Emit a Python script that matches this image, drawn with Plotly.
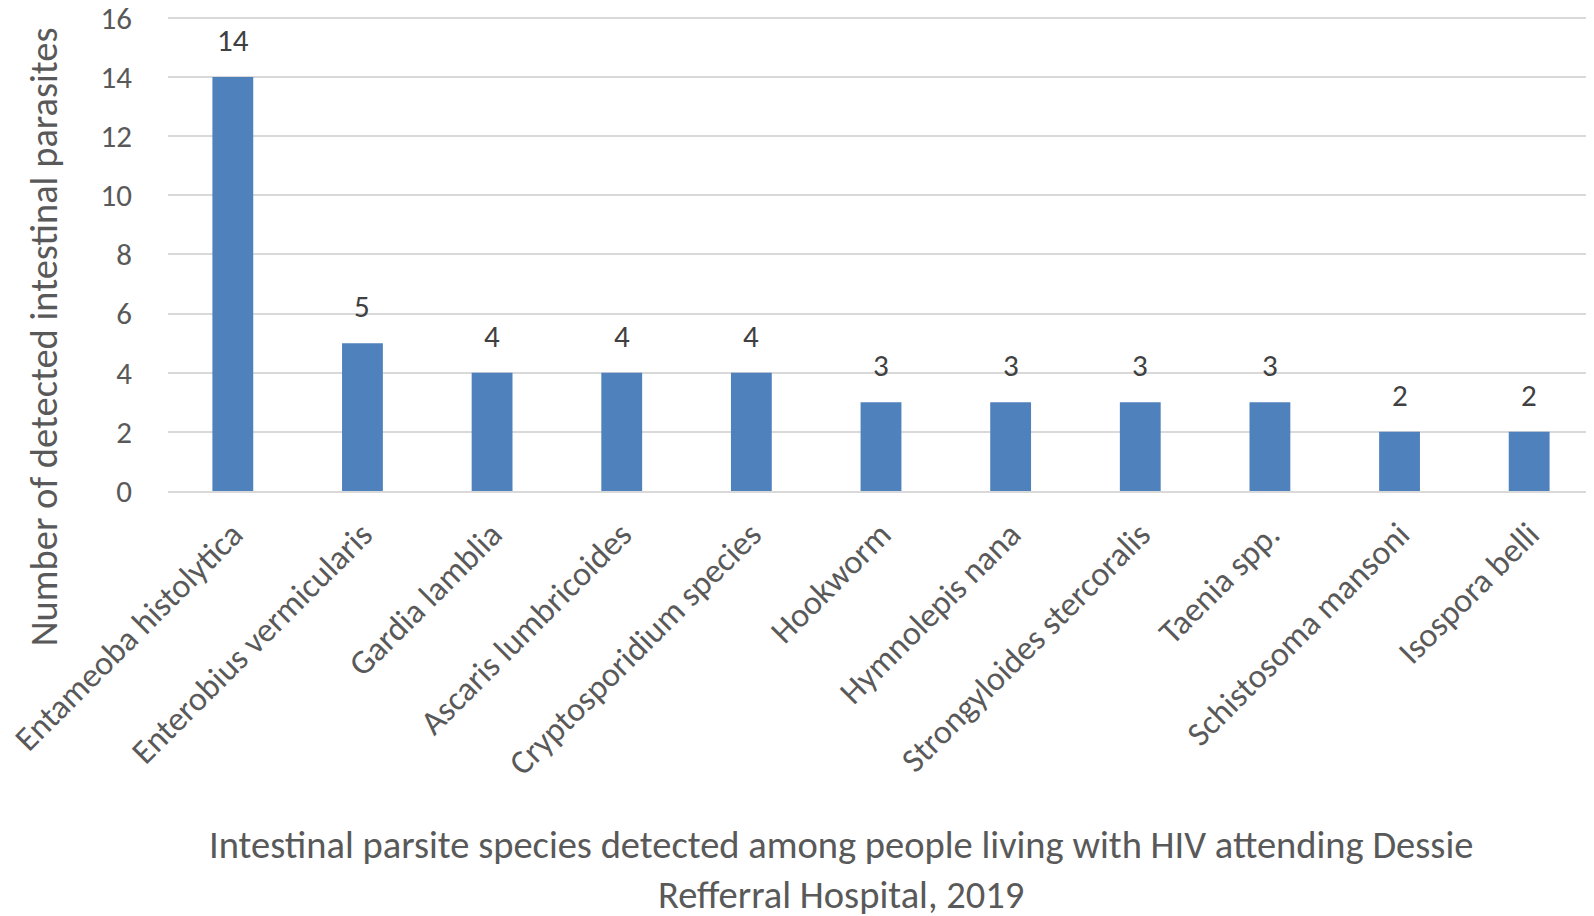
import plotly.graph_objects as go

species = [
    "Entameoba histolytica",
    "Enterobius vermicularis",
    "Gardia lamblia",
    "Ascaris lumbricoides",
    "Cryptosporidium species",
    "Hookworm",
    "Hymnolepis nana",
    "Strongyloides stercoralis",
    "Taenia spp.",
    "Schistosoma mansoni",
    "Isospora belli",
]
counts = [14, 5, 4, 4, 4, 3, 3, 3, 3, 2, 2]
y_ticks = [0, 2, 4, 6, 8, 10, 12, 14, 16]

FONT = "Carlito, Lato, 'Open Sans', sans-serif"
TEXT_GREY = "#595959"

fig = go.Figure()
fig.add_trace(go.Bar(
    x=species,
    y=counts,
    marker=dict(color="#4F81BD", line=dict(width=0)),
    hoverinfo="x+y",
))

# data labels above the bars (Excel style gap)
for name, val in zip(species, counts):
    fig.add_annotation(
        x=name, y=val, text=str(val), showarrow=False,
        yanchor="bottom", yshift=16,
        font=dict(family=FONT, size=31, color="#404040"),
    )

# y axis title
fig.add_annotation(
    xref="paper", yref="paper", x=-0.0877, y=0.325, xanchor="center", yanchor="middle",
    text="Number of detected intestinal parasites", textangle=-90,
    showarrow=False, font=dict(family=FONT, size=38.5, color=TEXT_GREY),
)

# x axis title sits below the rotated labels
fig.add_annotation(
    xref="paper", yref="paper", x=0.472, y=-0.69, xanchor="center", yanchor="top",
    text="Intestinal parsite species detected among people living with HIV attending Dessie<br>Refferral Hospital, 2019",
    showarrow=False, align="center",
    font=dict(family=FONT, size=38.5, color=TEXT_GREY),
)

fig.update_xaxes(
    tickangle=-45,
    tickfont=dict(family=FONT, size=34, color=TEXT_GREY),
    showline=True, linecolor="#d9d9d9", linewidth=2,
    ticks="", showgrid=False,
    ticklabelstandoff=8,
    automargin=False,
)
fig.update_yaxes(
    range=[0, 16.1],
    tickvals=y_ticks,
    tickfont=dict(family=FONT, size=31, color=TEXT_GREY),
    gridcolor="#d9d9d9", gridwidth=2,
    zeroline=False, showline=False,
    ticklabelstandoff=35,
    ticklabeloverflow="allow",
    automargin=False,
)

fig.update_layout(
    width=1586, height=908,
    margin=dict(l=160, r=0, t=7, b=425),
    bargap=0.685,
    showlegend=False,
    plot_bgcolor="white",
    paper_bgcolor="white",
    font=dict(family=FONT, color=TEXT_GREY),
)

fig.write_html("out.html")
